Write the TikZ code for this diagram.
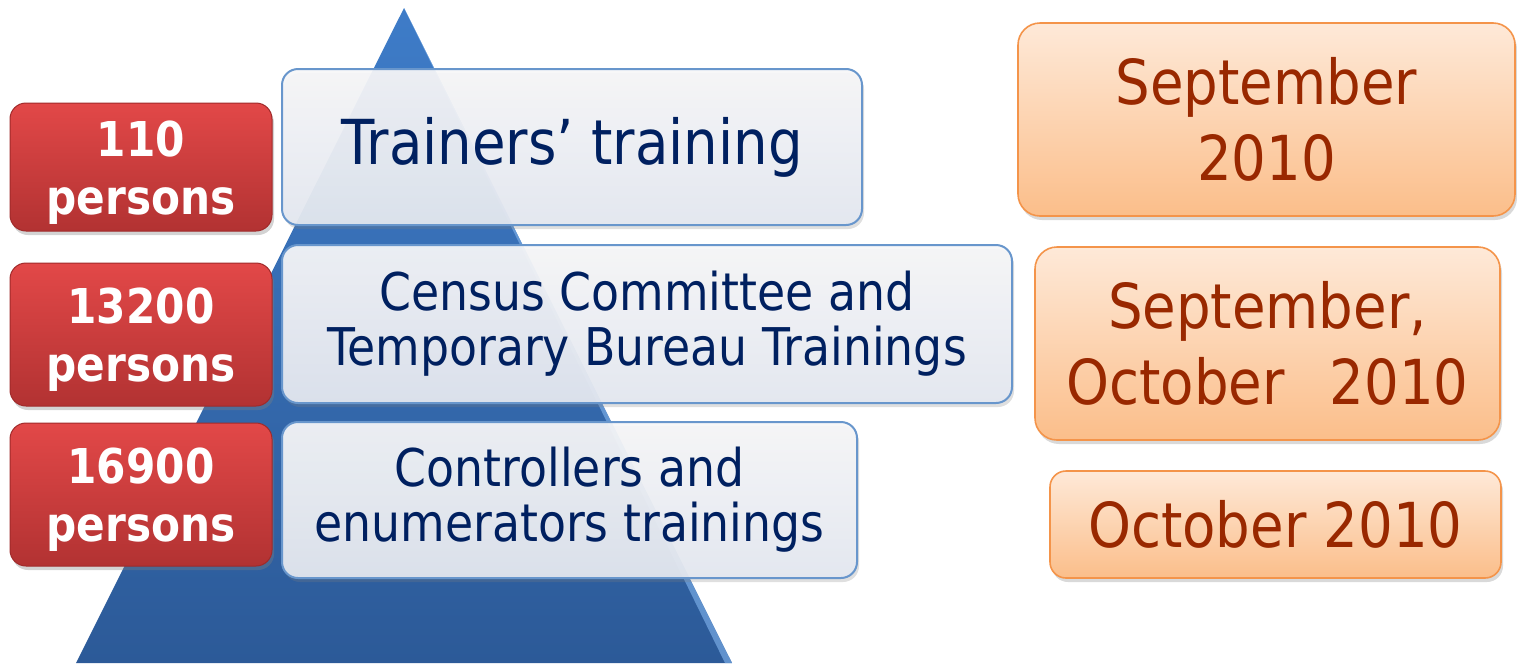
\documentclass[tikz,border=0pt]{standalone}
\usepackage{fontspec}
\setmainfont{DejaVu Sans}[FakeStretch=0.88]
\usetikzlibrary{shadows}
\definecolor{navy}{RGB}{0,32,96}
\definecolor{rust}{RGB}{153,40,0}
\definecolor{triTop}{RGB}{62,124,200}
\definecolor{triBot}{RGB}{44,90,152}
\definecolor{triEdge}{RGB}{120,170,228}
\definecolor{redTop}{RGB}{226,72,72}
\definecolor{redBot}{RGB}{178,50,50}
\definecolor{redLine}{RGB}{160,42,42}
\definecolor{whTop}{RGB}{246,246,248}
\definecolor{whBot}{RGB}{228,232,240}
\definecolor{whLine}{RGB}{104,150,204}
\definecolor{orTop}{RGB}{254,233,216}
\definecolor{orBot}{RGB}{251,190,138}
\definecolor{orLine}{RGB}{244,148,74}
\tikzset{
  redbox/.style={rounded corners=16pt, top color=redTop, bottom color=redBot,
    draw=redLine, line width=1pt,
    drop shadow={shadow xshift=2pt, shadow yshift=-4pt, opacity=0.35}},
  redtext/.style={text=white, align=center, inner sep=0pt,
    font=\bfseries\fontsize{48}{58}\selectfont},
  whitebox/.style={rounded corners=16pt, top color=whTop, bottom color=whBot,
    fill opacity=0.94, text opacity=1, draw=whLine, line width=2pt, text=navy, align=center,
    font=\fontsize{52}{55}\selectfont,
    drop shadow={shadow xshift=2pt, shadow yshift=-4pt, opacity=0.25}},
  orbox/.style={rounded corners=22pt, top color=orTop, bottom color=orBot,
    draw=orLine, line width=1.6pt, text=rust, align=center,
    font=\fontsize{62}{76}\selectfont,
    drop shadow={shadow xshift=2pt, shadow yshift=-4pt, opacity=0.3}},
}
\begin{document}
\begin{tikzpicture}[x=1pt,y=-1pt]
\useasboundingbox (0,0) rectangle (1517,667);
% pyramid
\coordinate (apex) at (404,8);
\coordinate (bl) at (76,663);
\coordinate (br) at (732,663);
\shade[top color=triTop, bottom color=triBot] (apex) -- (br) -- (bl) -- cycle;
\fill[triEdge, opacity=0.7] (apex) -- (br) -- ([xshift=-7pt]br) -- cycle;
% red boxes
\node[redbox, minimum width=262pt, minimum height=128pt] (r1) at (141,167) {};
\node[redbox, minimum width=262pt, minimum height=143pt] (r2) at (141,334.5) {};
\node[redbox, minimum width=262pt, minimum height=143pt] (r3) at (141,494.5) {};
\node[redtext] (r1t) at ([yshift=-6pt]r1.center) {110\\persons};
\node[redtext] (r2t) at ([yshift=-5pt]r2.center) {13200\\persons};
\node[redtext] (r3t) at ([yshift=-5pt]r3.center) {16900\\persons};
% white boxes
\node[whitebox, minimum width=580pt, minimum height=156pt, font=\fontsize{62}{66}\selectfont] (w1) at (572,147) {Trainers’ training};
\node[whitebox, minimum width=730pt, minimum height=158pt] (w2) at (647,324) {Census Committee and\\Temporary Bureau Trainings};
\node[whitebox, minimum width=575pt, minimum height=156pt] (w3) at (569.5,500) {Controllers and\\enumerators trainings};
% orange boxes
\node[orbox, minimum width=497pt, minimum height=193pt] (o1) at (1266.5,119.5) {September\\2010};
\node[orbox, minimum width=465pt, minimum height=193pt] (o2) at (1267.5,343.5) {September,\\October\ \ \,2010};
\node[orbox, rounded corners=16pt, minimum width=451pt, minimum height=107pt] (o3) at (1275.5,524.5) {October 2010};
\end{tikzpicture}
\end{document}
